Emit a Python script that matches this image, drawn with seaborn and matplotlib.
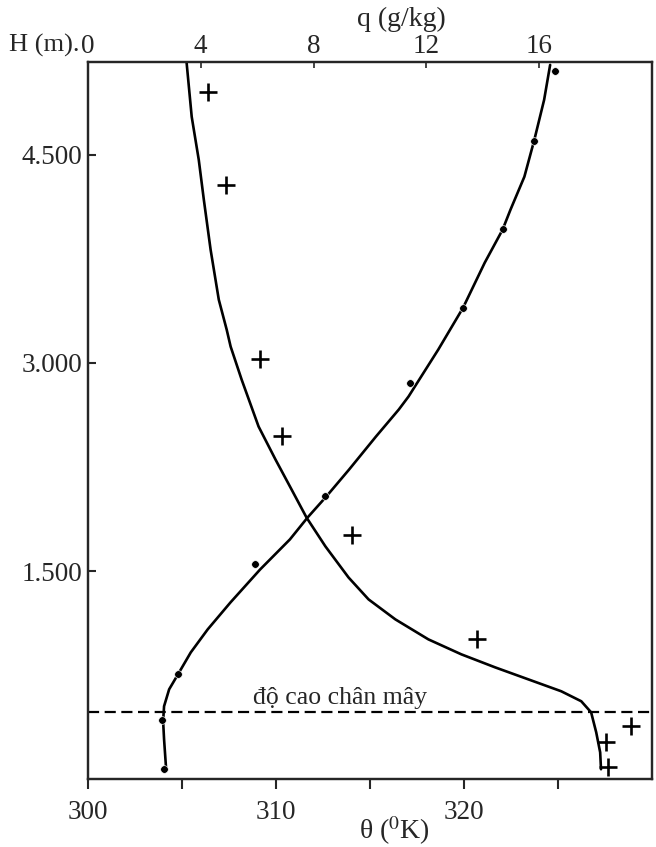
import matplotlib
matplotlib.use("Agg")
import matplotlib.pyplot as plt
import seaborn as sns

# measured potential temperature (dots) and specific humidity (pluses)
theta_pts = [304.05, 303.95, 304.79, 308.89, 312.63, 317.11, 319.95, 322.05, 323.74, 324.84]
theta_h = [72, 425, 756, 1548, 2038, 2858, 3398, 3967, 4601, 5105]

q_pts = [4.25, 4.88, 6.09, 6.87, 9.35, 13.81, 19.26, 18.37, 18.44]
q_h = [4954, 4284, 3031, 2477, 1757, 1008, 382, 266, 86]

# smooth curves
theta_line = [304.16, 304.05, 304.0, 304.05, 304.32, 304.79, 305.47, 306.37, 307.58,
              309.16, 310.74, 311.68, 312.68, 313.89, 315.32, 316.53, 317.05, 318.63,
              319.95, 321.1, 322.05, 322.47, 323.21, 323.74, 324.26, 324.58]
theta_line_h = [72, 288, 418, 526, 648, 756, 914, 1080, 1274, 1512, 1728, 1886, 2038,
                2232, 2470, 2664, 2758, 3096, 3398, 3722, 3960, 4104, 4342, 4608, 4896, 5148]

q_line = [3.50, 3.68, 3.93, 4.11, 4.35, 4.64, 4.92, 5.06, 5.45, 6.05, 6.65, 7.22, 7.75,
          8.42, 9.24, 9.95, 10.90, 12.07, 13.24, 14.44, 15.61, 16.78, 17.49, 17.84,
          18.02, 18.16, 18.19]
q_line_h = [5162, 4774, 4464, 4176, 3816, 3456, 3240, 3118, 2880, 2542, 2304, 2088, 1886,
            1678, 1454, 1296, 1152, 1008, 900, 806, 720, 634, 562, 482, 338, 194, 72]

cloud_base = 482

h_ticks = [1500, 3000, 4500]
h_labels = ['1.500', '3.000', '4.500']
theta_major = [300, 310, 320]
theta_minor = [305, 315, 325]
q_ticks = [0, 4, 8, 12, 16]

sns.set_style('ticks')
plt.rcParams['font.family'] = ['Liberation Serif', 'DejaVu Serif']
plt.rcParams['mathtext.fontset'] = 'stix'
plt.rcParams['lines.solid_joinstyle'] = 'round'

fig, ax = plt.subplots(figsize=(6.56, 8.47), dpi=100)
fig.subplots_adjust(left=0.134, right=0.994, top=0.927, bottom=0.080)
ax2 = ax.twiny()

sns.lineplot(x=theta_line, y=theta_line_h, sort=False, estimator=None,
             color='black', lw=1.9, ax=ax)
sns.scatterplot(x=theta_pts, y=theta_h, color='black', s=30, ax=ax, zorder=3)

sns.lineplot(x=q_line, y=q_line_h, sort=False, estimator=None,
             color='black', lw=1.9, ax=ax2)
sns.scatterplot(x=q_pts, y=q_h, marker='+', color='black', s=180,
                linewidth=1.9, ax=ax2, zorder=3)

ax.axhline(cloud_base, color='black', lw=1.6, ls=(0, (5, 2.5)))
ax.text(313.4, cloud_base + 25, 'độ cao chân mây', ha='center', va='bottom', fontsize=18.5)

ax.set_xlim(300, 330)
ax.set_ylim(0, 5170)
ax2.set_xlim(0, 20)

ax.set_yticks(h_ticks)
ax.set_yticklabels(h_labels, fontsize=19.5)
ax.set_xticks(theta_major)
ax.set_xticklabels([str(t) for t in theta_major], fontsize=19.5)
ax.set_xticks(theta_minor, minor=True)
ax.tick_params(axis='x', which='both', direction='out', length=7, width=1.5, pad=8)
ax.tick_params(axis='y', direction='in', length=6, width=1.5, pad=4)
ax.set_xlabel('θ ($^0$K)', fontsize=20)
ax.xaxis.set_label_coords(0.544, -0.049)
ax.set_ylabel('')

ax2.set_xticks(q_ticks)
ax2.set_xticklabels([str(t) for t in q_ticks], fontsize=19.5)
ax2.tick_params(axis='x', direction='in', length=4, width=1.2, pad=2)
ax2.set_xlabel('q (g/kg)', fontsize=20)
ax2.xaxis.set_label_coords(0.555, 1.05)

for a in (ax, ax2):
    for s in a.spines.values():
        s.set_linewidth(1.6)
        s.set_visible(True)

fig.text(0.121, 0.946, 'H (m).', ha='right', va='center', fontsize=19)

fig.savefig('out.png', dpi=100)
